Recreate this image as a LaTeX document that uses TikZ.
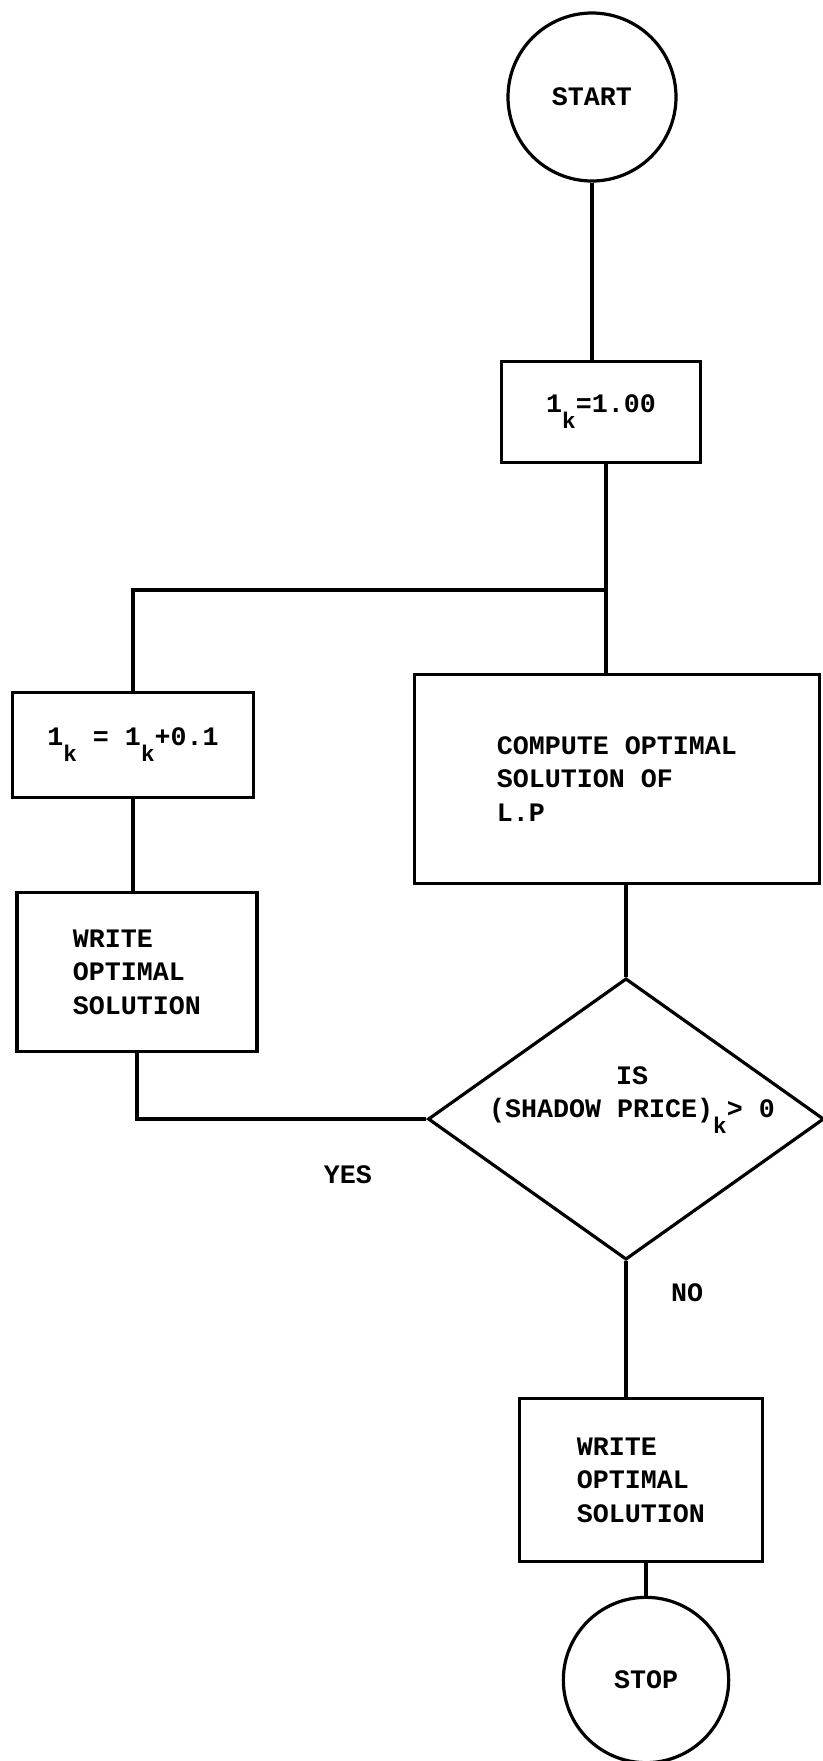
\documentclass[tikz,border=0pt]{standalone}
\usepackage{fontspec}
\setmonofont[UprightFont=* Bold]{Liberation Mono}
\usetikzlibrary{shapes.geometric}
\newcommand{\lowsub}[1]{\raisebox{-0.6em}{\fontsize{17}{17}\selectfont #1}}

\begin{document}
\begin{tikzpicture}[x=0.75pt, y=-0.75pt, line width=2.4pt,
	font=\ttfamily\fontsize{20}{25}\selectfont,
	term/.style={draw, circle, inner sep=0pt, minimum size=#1},
	box/.style={draw, rectangle, align=left, inner sep=0pt},
	test/.style={draw, diamond, inner sep=0pt, minimum width=297pt, minimum height=211pt}]
	\useasboundingbox (0,0) rectangle (823,1761);

	% main column
	\node[term=126pt] (start) at (592,97) {START};
	\node[box, minimum width=149pt, minimum height=76pt] (init) at (601,412) {1\lowsub{k}=1.00};
	\node[box, minimum width=304pt, minimum height=157pt] (compute) at (617,779) {COMPUTE OPTIMAL\\SOLUTION OF\\L.P};
	\node[test] (decision) at (626,1119) {};
	\node[align=center] (question) at (632,1100) {IS\\(SHADOW PRICE)\lowsub{k}> 0};
	\node[box, minimum width=182pt, minimum height=122pt] (writeR) at (641,1480) {WRITE\\OPTIMAL\\SOLUTION};
	\node[term=124pt] (stop) at (646,1680) {STOP};

	% loop branch
	\node[box, minimum width=181pt, minimum height=79pt] (incr) at (133,745) {1\lowsub{k} = 1\lowsub{k}+0.1};
	\node[box, minimum width=180pt, minimum height=119pt] (writeL) at (137,972) {WRITE\\OPTIMAL\\SOLUTION};

	\node (yes) at (348,1175) {YES};
	\node (no) at (687,1293) {NO};

	\coordinate (split) at (606,590);

	\draw (start.south) -- (start.south |- init.north);
	\draw (init.south -| split) -- (split) -| (incr.north);
	\draw (split) -- (split |- compute.north);
	\draw (incr.south) -- (incr.south |- writeL.north);
	\draw (decision |- compute.south) -- (decision.north);
	\draw (decision.west) -| (writeL.south);
	\draw (decision.south) -- (decision.south |- writeR.north);
	\draw (stop.north |- writeR.south) -- (stop.north);
\end{tikzpicture}
\end{document}
